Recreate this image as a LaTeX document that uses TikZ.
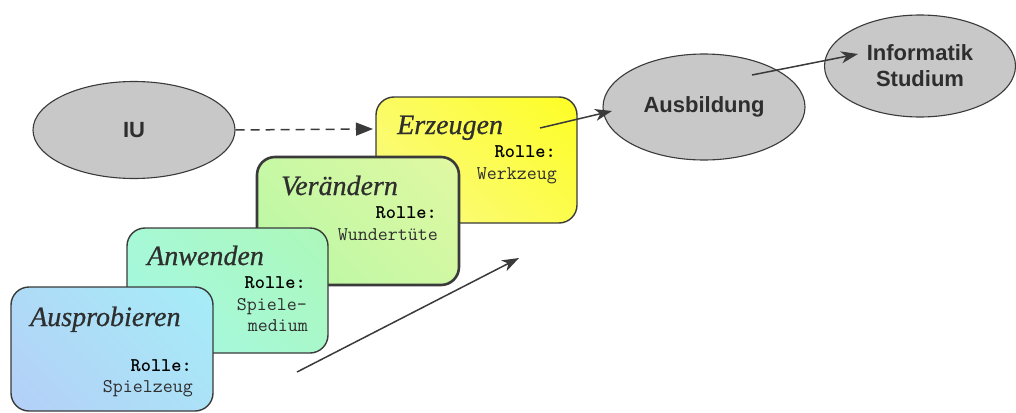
\documentclass[tikz,border=0pt]{standalone}
\usepackage{fontspec}
\setmainfont{Liberation Serif}
\setsansfont{Liberation Sans}
\newfontfamily\titlefont{Liberation Serif}[ItalicFeatures={FakeBold=0.7}]
\usetikzlibrary{arrows.meta,shapes.geometric}
\definecolor{edge}{HTML}{3A3A3A}
\definecolor{ellfill}{HTML}{C8C8C8}
\definecolor{txt}{HTML}{2E2E2E}
\definecolor{aA}{HTML}{BAC4F8}\definecolor{aM}{HTML}{A8E8F8}\definecolor{aB}{HTML}{A0F8F6}
\definecolor{bA}{HTML}{A0F8F8}\definecolor{bM}{HTML}{A0F8F6}\definecolor{bB}{HTML}{B0F8A8}
\definecolor{cA}{HTML}{A8F8A8}\definecolor{cM}{HTML}{B2F8A0}\definecolor{cB}{HTML}{F0F8A0}
\definecolor{dA}{HTML}{F8F8B0}\definecolor{dM}{HTML}{F8F890}\definecolor{dB}{HTML}{FFFF00}
\newcommand\boxshade[4]{%
  \begin{scope}
    \clip[rounded corners=18pt] (#1.north west) rectangle (#1.south east);
    \shade[shift={(#1.center)}, bottom color=#2, middle color=#3, top color=#4, shading angle=-45] (-200,-200) rectangle (200,200);
  \end{scope}}
\tikzset{
  stagebox/.style={rectangle, inner sep=0pt, outer sep=0pt, anchor=north west},
  boxedge/.style={draw=edge, line width=1.4pt, rounded corners=18pt},
  oval/.style={ellipse, draw=edge, line width=1.1pt, fill=ellfill, inner sep=0pt, font=\sffamily\bfseries\fontsize{22}{26}\selectfont, text=txt, align=center},
  stagetitle/.style={anchor=base west, font=\titlefont\itshape\fontsize{28}{30}\selectfont, text=txt, inner sep=0pt},
  rolle/.style={anchor=base east, font=\ttfamily\bfseries\fontsize{19.4}{22}\selectfont, text=black, inner sep=0pt},
  rolletext/.style={anchor=base east, font=\ttfamily\fontsize{19.4}{22}\selectfont, text=txt, inner sep=0pt, align=right},
  link/.style={draw=edge, line width=1.5pt, -{Stealth[length=17pt,width=12pt,inset=5pt]}},
  dlink/.style={draw=edge, line width=1.5pt, dash pattern=on 9pt off 6pt, -{Triangle[length=17pt,width=13pt]}}
}
\begin{document}
\begin{tikzpicture}[x=1pt,y=-1pt]
\useasboundingbox (0,0) rectangle (1016,412);
% stage boxes (back to front)
\node[stagebox, minimum width=201pt, minimum height=126pt] (erz) at (376,97) {};
\boxshade{erz}{dA}{dM}{dB}
\draw[boxedge] (erz.north west) rectangle (erz.south east);
\node[stagebox, minimum width=202pt, minimum height=128pt] (ver) at (257,157) {};
\boxshade{ver}{cA}{cM}{cB}
\draw[boxedge, line width=2.6pt] (ver.north west) rectangle (ver.south east);
\node[stagebox, minimum width=201pt, minimum height=125pt] (anw) at (127,228) {};
\boxshade{anw}{bA}{bM}{bB}
\draw[boxedge] (anw.north west) rectangle (anw.south east);
\node[stagebox, minimum width=202pt, minimum height=124pt] (aus) at (11,287) {};
\boxshade{aus}{aA}{aM}{aB}
\draw[boxedge] (aus.north west) rectangle (aus.south east);
% texts
\node[stagetitle] (t1) at (397,134) {Erzeugen};
\node[rolle] (r1) at (556,157) {Rolle:};
\node[rolletext] (w1) at (557,179) {Werkzeug};
\node[stagetitle] (t2) at (281,195) {Verändern};
\node[rolle] (r2) at (437,218) {Rolle:};
\node[rolletext] (w2) at (438,240) {Wundertüte};
\node[stagetitle] (t3) at (147,265) {Anwenden};
\node[rolle] (r3) at (306,288) {Rolle:};
\node[rolletext] (w3a) at (307,310) {Spiele-};
\node[rolletext] (w3b) at (308,331) {medium};
\node[stagetitle] (t4) at (30,326) {Ausprobieren};
\node[rolle] (r4) at (192,371) {Rolle:};
\node[rolletext] (w4) at (193,392) {Spielzeug};
% ellipses
\node[oval, minimum width=202pt, minimum height=97pt] (iu) at (134,130) {IU};
\node[oval, minimum width=202pt, minimum height=106pt] (ausb) at (704,107) {Ausbildung};
\node[oval, minimum width=191pt, minimum height=102pt] (inf) at (920,66) {Informatik\\Studium};
% connector end points
\coordinate (c1) at (540,128);
\coordinate (c2) at (612,111);
\coordinate (c3) at (752,75);
\coordinate (c4) at (858,54);
\coordinate (c5) at (297,372);
\coordinate (c6) at (519,258);
\coordinate (c7) at (373,129);
% connectors
\draw[dlink] (iu.east) -- (c7);
\draw[link] (c1) -- (c2);
\draw[link] (c3) -- (c4);
\draw[link] (c5) -- (c6);
\end{tikzpicture}
\end{document}
